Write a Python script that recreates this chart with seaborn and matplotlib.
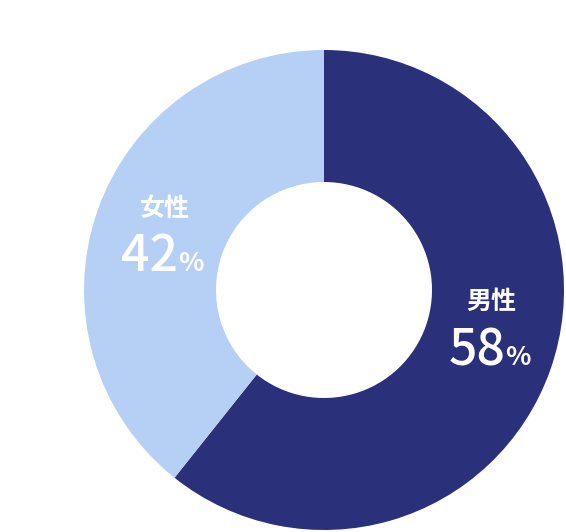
import matplotlib
matplotlib.use("Agg")
import matplotlib.pyplot as plt
import seaborn as sns

# Data
categories = ["男性", "女性"]
label_pct = [58, 42]            # percentages printed on the chart
slice_share = [60.7, 39.3]
colors = ["#2b307a", "#b6cff4"]

sns.set_theme(style="white")
plt.rcParams['font.family'] = ['Noto Sans CJK JP', 'DejaVu Sans']

fig = plt.figure(figsize=(5.66, 5.32), dpi=100)
ax = fig.add_axes([0, 0, 1, 1])

palette = sns.color_palette(colors)
ax.pie(slice_share, colors=palette, startangle=90, counterclock=False,
       center=(324, 242), radius=240, frame=True,
       wedgeprops=dict(width=240 * 0.55, edgecolor="none", linewidth=0))
ax.set_xlim(0, 566)
ax.set_ylim(0, 532)
ax.set_aspect("equal")
ax.axis("off")

# label positions (pixel-like data coords)
name_pos = [(491, 230), (165, 323)]
num_end = [(505, 167), (178, 261)]
for cat, pct, (nx, ny), (ex, ey) in zip(categories, label_pct, name_pos, num_end):
    ax.text(nx, ny, cat, ha="center", va="center", color="white",
            fontsize=18, fontweight="bold")
    ax.text(ex, ey, f"{pct}", ha="right", va="baseline", color="white",
            fontsize=36, fontweight="medium")
    ax.text(ex, ey, "%", ha="left", va="baseline", color="white",
            fontsize=19, fontweight="bold")

fig.savefig("out.png", dpi=100)
